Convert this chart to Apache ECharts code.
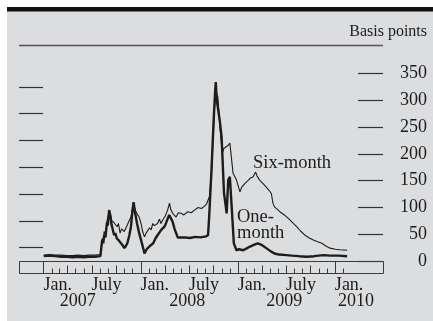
<!DOCTYPE html>
<html>
<head>
<meta charset="utf-8">
<script src="https://cdn.jsdelivr.net/npm/echarts@6/dist/echarts.min.js"></script>
<style>
  html, body { margin: 0; padding: 0; background: #ffffff; }
  #chart { width: 433px; height: 321px; }
</style>
</head>
<body>
<div id="chart"></div>
<script>
// One-month LIBOR-OIS spread, basis points
const oneMonthDates = [
  '2007-01-02','2007-01-25','2007-02-15','2007-03-08','2007-03-30','2007-04-20','2007-05-10','2007-06-01',
  '2007-06-22','2007-07-13','2007-08-03','2007-08-08','2007-08-10','2007-08-14','2007-08-17','2007-08-22',
  '2007-08-28','2007-08-31','2007-09-05','2007-09-10','2007-09-14','2007-09-19','2007-09-24','2007-09-28',
  '2007-10-04','2007-10-12','2007-10-18','2007-10-25','2007-11-01','2007-11-07','2007-11-13','2007-11-20',
  '2007-11-26','2007-12-01','2007-12-06','2007-12-11','2007-12-19','2007-12-27','2008-01-03','2008-01-09',
  '2008-01-16','2008-01-22','2008-01-28','2008-02-04','2008-02-10','2008-02-18','2008-02-26','2008-03-05',
  '2008-03-12','2008-03-19','2008-03-25','2008-03-31','2008-04-07','2008-04-13','2008-04-18','2008-04-24',
  '2008-05-01','2008-05-08','2008-05-14','2008-05-20','2008-05-26','2008-06-15','2008-07-05','2008-07-25',
  '2008-08-14','2008-09-03','2008-09-11','2008-09-16','2008-09-24','2008-10-02','2008-10-07','2008-10-10',
  '2008-10-14','2008-10-18','2008-10-25','2008-11-01','2008-11-10','2008-11-20','2008-11-26','2008-12-02',
  '2008-12-09','2008-12-17','2008-12-27','2009-01-05','2009-01-21','2009-02-05','2009-02-16','2009-03-02',
  '2009-03-17','2009-04-01','2009-04-18','2009-05-05','2009-05-19','2009-06-05','2009-07-02','2009-07-25',
  '2009-08-20','2009-09-17','2009-10-15','2009-11-19','2009-12-15','2010-01-15','2010-02-16'
];
const oneMonthValues = [
  9, 10, 9, 8, 8, 7, 8, 7,
  8, 8, 9, 10, 40, 33, 48, 44,
  72, 66, 95, 84, 68, 58, 48, 52,
  42, 38, 41, 30, 24, 28, 34, 48,
  64, 90, 110, 92, 70, 52, 39, 28,
  14, 20, 24, 22, 30, 33, 42, 48,
  45, 58, 55, 64, 72, 80, 86, 80,
  73, 60, 52, 44, 42, 44, 43, 45,
  44, 46, 48, 90, 170, 262, 310, 334,
  300, 300, 262, 231, 127, 89, 151, 157,
  100, 33, 20, 22, 20, 24, 27, 30,
  33, 30, 24, 18, 14, 12, 11, 10,
  9, 8, 9, 11, 10, 10, 9
];

// Six-month LIBOR-OIS spread, basis points
const sixMonthDates = [
  '2007-01-02','2007-01-25','2007-02-15','2007-03-08','2007-03-30','2007-04-20','2007-05-10','2007-06-01',
  '2007-06-22','2007-07-13','2007-08-03','2007-08-08','2007-08-10','2007-08-14','2007-08-17','2007-08-22',
  '2007-08-28','2007-09-05','2007-09-10','2007-09-14','2007-09-24','2007-10-01','2007-10-05','2007-10-10',
  '2007-10-16','2007-10-22','2007-10-27','2007-11-01','2007-11-07','2007-11-13','2007-11-20','2007-11-26',
  '2007-12-01','2007-12-06','2007-12-12','2007-12-19','2007-12-27','2008-01-03','2008-01-09','2008-01-16',
  '2008-01-22','2008-01-28','2008-02-04','2008-02-10','2008-02-16','2008-02-22','2008-03-05','2008-03-12',
  '2008-03-18','2008-03-24','2008-04-03','2008-04-12','2008-04-19','2008-04-24','2008-05-01','2008-05-07',
  '2008-05-14','2008-05-22','2008-06-02','2008-06-12','2008-06-27','2008-07-10','2008-07-22','2008-08-05',
  '2008-08-17','2008-08-28','2008-09-05','2008-09-11','2008-09-16','2008-09-24','2008-10-02','2008-10-07',
  '2008-10-10','2008-10-14','2008-10-18','2008-10-24','2008-10-29','2008-11-04','2008-11-09','2008-11-16',
  '2008-11-26','2008-12-02','2008-12-08','2008-12-14','2008-12-20','2008-12-27','2009-01-09','2009-01-16',
  '2009-01-28','2009-02-08','2009-02-18','2009-02-27','2009-03-09','2009-03-15','2009-03-24','2009-04-05',
  '2009-04-18','2009-04-28','2009-05-07','2009-05-13','2009-05-19','2009-06-08','2009-06-25','2009-07-09',
  '2009-07-25','2009-08-10','2009-08-25','2009-09-11','2009-09-27','2009-10-12','2009-10-28','2009-11-13',
  '2009-11-28','2009-12-14','2010-01-03','2010-01-20','2010-02-16'
];
const sixMonthValues = [
  11, 12, 11, 11, 10, 10, 11, 10,
  11, 11, 12, 14, 42, 38, 55, 50,
  75, 92, 86, 76, 71, 68, 64, 70,
  52, 60, 58, 55, 58, 68, 76, 82,
  96, 108, 95, 88, 82, 70, 55, 45,
  52, 55, 62, 58, 70, 66, 70, 78,
  70, 76, 84, 95, 108, 96, 89, 86,
  82, 90, 89, 86, 92, 90, 95, 100,
  98, 102, 106, 107, 120, 165, 250, 300,
  322, 310, 306, 263, 231, 201, 210, 213,
  216, 220, 222, 164, 158, 151, 129, 138,
  145, 150, 155, 157, 166, 158, 151, 145,
  138, 132, 126, 108, 101, 92, 86, 80,
  72, 64, 56, 48, 43, 39, 36, 33,
  28, 24, 22, 21, 20
];

// Axis ticks and labels
const yTicksRight = [0, 50, 100, 150, 200, 250, 300, 350];
const yTicksLeft = [25, 75, 125, 175, 225, 275, 325];
const monthLabelDates = ['2007-01-01','2007-07-01','2008-01-01','2008-07-01','2009-01-01','2009-07-01','2010-01-01'];
const yearLabelDates = ['2007-05-10','2008-06-25','2009-06-25','2010-03-21'];
const axisStart = '2006-10-01';
const axisEnd = '2010-07-01';

const ms = s => Date.parse(s + 'T00:00:00Z');
const pairs = (dates, vals) => dates.map((d, i) => [ms(d), vals[i]]);

// Date-strip ticks, Jan 2007 .. Feb 2010: [time, kind] with kind 2 = year, 1 = quarter, 0 = month
const stripTicks = [];
for (let y = 2007; y <= 2010; y++) {
  for (let m = 0; m < 12; m++) {
    if (y === 2010 && m > 1) break;
    stripTicks.push([Date.UTC(y, m, 1), m === 0 ? 2 : (m % 3 === 0 ? 1 : 0)]);
  }
}
const STRIP_H = 12;                 // height of the date strip under the plot
const tickLen = [4.5, 7.5, STRIP_H]; // month, quarter, year tick lengths

const SERIF = '"Liberation Serif", "DejaVu Serif", serif';
const INK = '#1c1c1c';
const xMin = ms(axisStart), xMax = ms(axisEnd);

const labelAxis = (values, margin, formatter, align) => ({
  type: 'value', min: xMin, max: xMax, gridIndex: 0, position: 'bottom',
  axisLine: { show: false }, splitLine: { show: false }, axisTick: { show: false },
  axisLabel: { show: true, customValues: values, align, margin,
    fontFamily: SERIF, fontSize: 18, color: INK, formatter }
});

const chart = echarts.init(document.getElementById('chart'), null, { renderer: 'canvas' });
chart.setOption({
  animation: false,
  backgroundColor: '#ffffff',
  graphic: [
    { type: 'rect', z: -10, shape: { x: 7, y: 11, width: 426, height: 310 }, style: { fill: '#dcdddf' } },
    { type: 'rect', z: -9, shape: { x: 7, y: 7, width: 426, height: 4.5 }, style: { fill: '#111111' } },
    { type: 'line', shape: { x1: 19, y1: 45.5, x2: 383, y2: 45.5 }, style: { stroke: '#555555', lineWidth: 1.5 } },
    { type: 'text', style: { text: 'Basis points', x: 427, y: 32, align: 'right', verticalAlign: 'middle',
        font: '16px ' + SERIF, fill: INK } },
    { type: 'text', style: { text: 'Six-month', x: 253, y: 163, align: 'left', verticalAlign: 'middle',
        font: '18.5px ' + SERIF, fill: INK } },
    { type: 'text', style: { text: 'One-', x: 237, y: 217, align: 'left', verticalAlign: 'middle',
        font: '18.5px ' + SERIF, fill: INK } },
    { type: 'text', style: { text: 'month', x: 237, y: 233, align: 'left', verticalAlign: 'middle',
        font: '18.5px ' + SERIF, fill: INK } }
  ],
  grid: [
    { left: 19, right: 50, top: 73.5, bottom: 60 }
  ],
  xAxis: [
    { type: 'value', min: xMin, max: xMax, gridIndex: 0, show: false },
    labelAxis(monthLabelDates.map(ms), 3 + STRIP_H,
      v => (new Date(v).getUTCMonth() === 0 ? 'Jan.' : 'July'), 'left'),
    labelAxis(yearLabelDates.map(ms), 19 + STRIP_H,
      v => String(new Date(v).getUTCFullYear()), 'center')
  ],
  yAxis: [
    { type: 'value', gridIndex: 0, position: 'right', min: 0, max: 350, interval: 50,
      axisLine: { show: false }, splitLine: { show: false },
      axisTick: { show: true, inside: true, length: 25, customValues: yTicksRight,
        lineStyle: { color: '#333333', width: 1.2 } },
      axisLabel: { show: true, customValues: yTicksRight, align: 'right', margin: 44,
        fontFamily: SERIF, fontSize: 18, color: INK } },
    { type: 'value', gridIndex: 0, position: 'left', min: 0, max: 350,
      axisLine: { show: false }, splitLine: { show: false },
      axisTick: { show: true, inside: true, length: 24, customValues: yTicksLeft,
        lineStyle: { color: '#333333', width: 1.2 } },
      axisLabel: { show: false } }
  ],
  series: [
    { name: 'Six-month', type: 'line', xAxisIndex: 0, yAxisIndex: 0, showSymbol: false,
      data: pairs(sixMonthDates, sixMonthValues),
      lineStyle: { color: INK, width: 1.1 } },
    { name: 'One-month', type: 'line', xAxisIndex: 0, yAxisIndex: 0, showSymbol: false,
      data: pairs(oneMonthDates, oneMonthValues),
      lineStyle: { color: INK, width: 2.4 } },
    { name: 'date strip', type: 'custom', xAxisIndex: 0, yAxisIndex: 0, silent: true, clip: false,
      data: stripTicks,
      renderItem: (params, api) => {
        const p = api.coord([api.value(0), 0]);
        const x = Math.round(p[0]) + 0.5;
        const yBottom = p[1] + STRIP_H;
        const len = tickLen[api.value(1)];
        const children = [{ type: 'line', shape: { x1: x, y1: yBottom, x2: x, y2: yBottom - len },
          style: { stroke: '#3a3a3a', lineWidth: 1 } }];
        if (params.dataIndex === 0) {
          // frame of the strip, spanning the whole x extent
          const left = api.coord([xMin, 0]), right = api.coord([xMax, 0]);
          children.push({ type: 'rect',
            shape: { x: Math.round(left[0]) + 0.5, y: Math.round(p[1]) + 0.5,
              width: Math.round(right[0] - left[0]), height: STRIP_H },
            style: { fill: null, stroke: '#3a3a3a', lineWidth: 1 } });
        }
        return { type: 'group', children };
      } }
  ]
});
</script>
</body>
</html>
